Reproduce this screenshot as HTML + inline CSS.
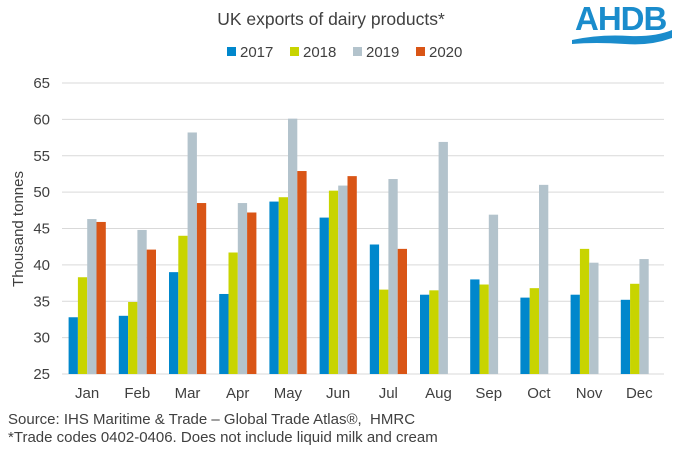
<!DOCTYPE html>
<html><head><meta charset="utf-8"><style>
body{margin:0;background:#fff;width:680px;height:454px;overflow:hidden;font-family:"Liberation Sans",Arial,sans-serif}
</style></head><body>
<svg id="s" width="680" height="454" xmlns="http://www.w3.org/2000/svg" font-family="Liberation Sans, Arial, sans-serif">
<text x="331" y="25" font-size="17.5" fill="#404040" text-anchor="middle">UK exports of dairy products*</text>
<g font-size="15" fill="#404040">
<rect x="227" y="47" width="9" height="9" fill="#0087cc"/><text x="240" y="57">2017</text>
<rect x="290" y="47" width="9" height="9" fill="#c8d400"/><text x="303" y="57">2018</text>
<rect x="353" y="47" width="9" height="9" fill="#b3c3cc"/><text x="366" y="57">2019</text>
<rect x="416" y="47" width="9" height="9" fill="#d95516"/><text x="429" y="57">2020</text>
</g>
<text x="575" y="30" font-size="33" font-weight="bold" fill="#1a8ccc" letter-spacing="-1">AHDB</text>
<path d="M572 40 Q600 34 630 36 Q655 37 672 30 L672 38 Q650 46 625 44 Q595 42 572 44 Z" fill="#1a8ccc"/>
<text transform="translate(23,229) rotate(-90)" font-size="15" fill="#404040" text-anchor="middle">Thousand tonnes</text>
<g id="g"></g>
<text x="8" y="424" font-size="15" fill="#404040">Source: IHS Maritime &amp; Trade – Global Trade Atlas®,&#160; HMRC</text>
<text x="8" y="442" font-size="15" fill="#404040">*Trade codes 0402-0406. Does not include liquid milk and cream</text>
</svg>
<script>
var d=[[32.8,33,39,36,48.7,46.5,42.8,35.9,38,35.5,35.9,35.2],
[38.3,34.9,44,41.7,49.3,50.2,36.6,36.5,37.3,36.8,42.2,37.4],
[46.3,44.8,58.2,48.5,60.1,50.9,51.8,56.9,46.9,51,40.3,40.8],
[45.9,42.1,48.5,47.2,52.9,52.2,42.2]];
var c=["#0087cc","#c8d400","#b3c3cc","#d95516"];
var m=["Jan","Feb","Mar","Apr","May","Jun","Jul","Aug","Sep","Oct","Nov","Dec"];
function y(v){return 374-(v-25)*7.275;}
var h="";
for(var v=25;v<=65;v+=5){var yy=y(v);h+='<line x1="62" x2="664" y1="'+yy+'" y2="'+yy+'" stroke="#d9d9d9"/>';
h+='<text x="50" y="'+(yy+5)+'" font-size="15" fill="#404040" text-anchor="end">'+v+'</text>';}
for(var i=0;i<12;i++){var x0=62+i*50.2+6.6;
for(var s=0;s<4;s++){var v=d[s][i];if(v==null)continue;
h+='<rect x="'+(x0+s*9.3)+'" y="'+y(v)+'" width="9.3" height="'+(374-y(v))+'" fill="'+c[s]+'"/>';}
h+='<text x="'+(62+i*50.2+25.1)+'" y="398" font-size="15" fill="#404040" text-anchor="middle">'+m[i]+'</text>';}
document.getElementById("g").innerHTML=h;
</script>
</body></html>
